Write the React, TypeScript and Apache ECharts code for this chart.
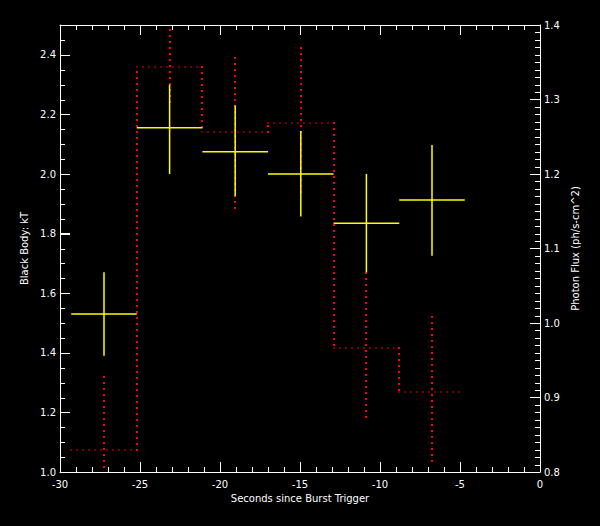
import React, { useEffect, useRef } from 'react';
import * as echarts from 'echarts';

// Time bins (seconds since burst trigger)
const binStart = [-29.3, -25.2, -21.1, -17.0, -12.9, -8.8];
const binEnd = [-25.2, -21.1, -17.0, -12.9, -8.8, -4.7];
const binCenter = [-27.25, -23.15, -19.05, -14.95, -10.85, -6.75];

// Black body kT (left axis)
const kT = [1.53, 2.155, 2.075, 2.0, 1.835, 1.913];
const kTLow = [1.39, 2.0, 1.925, 1.857, 1.67, 1.726];
const kTHigh = [1.67, 2.3, 2.23, 2.144, 2.0, 2.097];

// Photon flux (right axis)
const flux = [0.83, 1.343, 1.257, 1.269, 0.967, 0.907];
const fluxLow = [0.732, 1.293, 1.152, 1.169, 0.866, 0.807];
const fluxHigh = [0.928, 1.393, 1.356, 1.369, 1.067, 1.008];

// Tick labels
const xTickLabels = ['-30', '-25', '-20', '-15', '-10', '-5', '0'];
const kTTickLabels = ['1.0', '1.2', '1.4', '1.6', '1.8', '2.0', '2.2', '2.4'];
const fluxTickLabels = ['0.8', '0.9', '1.0', '1.1', '1.2', '1.3', '1.4'];

// Axis ranges and tick steps
const X_MIN = -30, X_MAX = 0, X_MAJOR = 5, X_MINOR = 1;
const KT_MIN = 1.0, KT_MAX = 2.5, KT_MAJOR = 0.2, KT_MINOR = 0.05;
const FL_MIN = 0.8, FL_MAX = 1.4, FL_MAJOR = 0.1, FL_MINOR = 0.01;

const FONT = 'DejaVu Sans';

function tickValues(min: number, max: number, minor: number, major: number) {
  const out: [number, number][] = [];
  const n = Math.round((max - min) / minor);
  for (let i = 0; i <= n; i++) {
    const v = +(min + i * minor).toFixed(6);
    const r = (v - min) / major;
    out.push([v, Math.abs(r - Math.round(r)) < 1e-6 ? 1 : 0]);
  }
  return out;
}

// dotted segment drawn as small squares every `step` px
function dots(p1: number[], p2: number[], size: number, color: string, step = 6) {
  const dx = p2[0] - p1[0], dy = p2[1] - p1[1];
  const L = Math.sqrt(dx * dx + dy * dy);
  const n = Math.floor(L / step);
  const out: any[] = [];
  for (let i = 0; i <= n; i++) {
    const t = L === 0 ? 0 : (i * step) / L;
    const cx = Math.round(p1[0] + dx * t);
    const cy = Math.round(p1[1] + dy * t);
    out.push({
      type: 'rect',
      shape: { x: cx - size / 2, y: cy - size / 2, width: size, height: size },
      style: { fill: color },
    });
  }
  return out;
}

export default function App() {
  const ref = useRef<HTMLDivElement>(null);

  useEffect(() => {
    if (!ref.current) return;
    document.body.style.margin = '0';
    const chart = echarts.init(ref.current, null, { renderer: 'svg' });

    const pick = (labels: string[]) => (v: number) => {
      const s = labels.find((l) => Math.abs(parseFloat(l) - v) < 1e-6);
      return s === undefined ? '' : s;
    };
    const crisp = (v: number) => Math.round(v) + 0.5;

    // tick data: [x, y, kind(0 = x tick, 1 = y tick), major]
    const leftTickData: number[][] = [];
    tickValues(X_MIN, X_MAX, X_MINOR, X_MAJOR).forEach(([v, m]) => leftTickData.push([v, KT_MIN, 0, m]));
    tickValues(KT_MIN, KT_MAX, KT_MINOR, KT_MAJOR).forEach(([v, m]) => leftTickData.push([X_MIN, v, 1, m]));
    const rightTickData: number[][] = tickValues(FL_MIN, FL_MAX, FL_MINOR, FL_MAJOR).map(([v, m]) => [X_MAX, v, 1, m]);

    // [center, value, start, end, low, high, previous]
    const kTData = kT.map((v, i) => [binCenter[i], v, binStart[i], binEnd[i], kTLow[i], kTHigh[i]]);
    const fluxData = flux.map((v, i) => [
      binCenter[i], v, binStart[i], binEnd[i], fluxLow[i], fluxHigh[i], i > 0 ? flux[i - 1] : v,
    ]);

    const nameStyle = { color: '#fff', fontSize: 10, fontFamily: FONT };
    const majorTick = { show: true, inside: true, length: 10, lineStyle: { color: '#fff', width: 1 } };

    const option: any = {
      animation: false,
      backgroundColor: '#000',
      grid: { left: 60, right: 60, top: 25, bottom: 54 },
      xAxis: [
        {
          type: 'value', min: X_MIN, max: X_MAX, interval: X_MAJOR,
          name: 'Seconds since Burst Trigger', nameLocation: 'middle', nameGap: 20, nameTextStyle: nameStyle,
          axisLine: { show: true, onZero: false, lineStyle: { color: '#fff', width: 1 } },
          axisTick: majorTick,
          axisLabel: { show: true, color: '#fff', fontSize: 10, fontFamily: FONT, margin: 7, formatter: pick(xTickLabels) },
          splitLine: { show: false },
        },
        {
          type: 'value', position: 'top', min: X_MIN, max: X_MAX, interval: X_MAJOR,
          axisLine: { show: true, onZero: false, lineStyle: { color: '#fff', width: 1 } },
          axisTick: majorTick,
          axisLabel: { show: false },
          splitLine: { show: false },
        },
      ],
      yAxis: [
        {
          type: 'value', min: KT_MIN, max: KT_MAX, interval: KT_MAJOR,
          name: 'Black Body: kT', nameLocation: 'middle', nameRotate: 90, nameGap: 18, nameTextStyle: nameStyle,
          axisLine: { show: true, onZero: false, lineStyle: { color: '#fff', width: 1 } },
          axisTick: majorTick,
          axisLabel: { show: true, color: '#fff', fontSize: 10, fontFamily: FONT, margin: 4, showMaxLabel: false, formatter: pick(kTTickLabels) },
          splitLine: { show: false },
        },
        {
          type: 'value', position: 'right', min: FL_MIN, max: FL_MAX, interval: FL_MAJOR,
          name: 'Photon Flux (ph/s-cm^2)', nameLocation: 'middle', nameRotate: 90, nameGap: 13, nameTextStyle: nameStyle,
          axisLine: { show: true, onZero: false, lineStyle: { color: '#fff', width: 1 } },
          axisTick: majorTick,
          axisLabel: { show: true, color: '#fff', fontSize: 10, fontFamily: FONT, margin: 4, formatter: pick(fluxTickLabels) },
          splitLine: { show: false },
        },
      ],
      series: [
        {
          type: 'custom',
          xAxisIndex: 0,
          yAxisIndex: 0,
          clip: false,
          z: 5,
          encode: { x: 0, y: 1 },
          data: leftTickData,
          renderItem: (params: any, api: any) => {
            const len = api.value(3) ? 10 : 5;
            if (api.value(2) === 0) {
              const b = api.coord([api.value(0), KT_MIN]);
              const t = api.coord([api.value(0), KT_MAX]);
              const x = crisp(b[0]);
              return {
                type: 'group',
                children: [
                  { type: 'line', shape: { x1: x, y1: b[1], x2: x, y2: b[1] - len }, style: { stroke: '#fff', lineWidth: 1 } },
                  { type: 'line', shape: { x1: x, y1: t[1], x2: x, y2: t[1] + len }, style: { stroke: '#fff', lineWidth: 1 } },
                ],
              };
            }
            const p = api.coord([X_MIN, api.value(1)]);
            const y = crisp(p[1]);
            return { type: 'line', shape: { x1: p[0], y1: y, x2: p[0] + len, y2: y }, style: { stroke: '#fff', lineWidth: 1 } };
          },
        },
        {
          type: 'custom',
          xAxisIndex: 0,
          yAxisIndex: 1,
          clip: false,
          z: 5,
          encode: { x: 0, y: 1 },
          data: rightTickData,
          renderItem: (params: any, api: any) => {
            const len = api.value(3) ? 10 : 5;
            const p = api.coord([X_MAX, api.value(1)]);
            const y = crisp(p[1]);
            return { type: 'line', shape: { x1: p[0], y1: y, x2: p[0] - len, y2: y }, style: { stroke: '#fff', lineWidth: 1 } };
          },
        },
        {
          type: 'custom',
          xAxisIndex: 0,
          yAxisIndex: 1,
          z: 2,
          encode: { x: 0, y: 1 },
          data: fluxData,
          renderItem: (params: any, api: any) => {
            const xc = api.value(0), y = api.value(1), x0 = api.value(2), x1 = api.value(3);
            const lo = Math.max(api.value(4), FL_MIN), hi = Math.min(api.value(5), FL_MAX), prev = api.value(6);
            const pL = api.coord([x0, y]);
            const pR = api.coord([x1, y]);
            const pPrev = api.coord([x0, prev]);
            const pT = api.coord([xc, hi]);
            const pB = api.coord([xc, lo]);
            let children: any[] = [];
            children = children.concat(dots(pL, pR, 1.5, '#d00000'));
            children = children.concat(dots(pT, pB, 2, '#ff0000'));
            if (params.dataIndex > 0) children = children.concat(dots(pPrev, pL, 2, '#ff0000'));
            return { type: 'group', children };
          },
        },
        {
          type: 'custom',
          xAxisIndex: 0,
          yAxisIndex: 0,
          z: 3,
          encode: { x: 0, y: 1 },
          data: kTData,
          renderItem: (params: any, api: any) => {
            const xc = api.value(0), y = api.value(1), x0 = api.value(2), x1 = api.value(3);
            const lo = api.value(4), hi = api.value(5);
            const pL = api.coord([x0, y]);
            const pR = api.coord([x1, y]);
            const pT = api.coord([xc, hi]);
            const pB = api.coord([xc, lo]);
            const st = { stroke: '#ffff00', lineWidth: 1.5 };
            return {
              type: 'group',
              children: [
                { type: 'line', shape: { x1: pL[0], y1: pL[1], x2: pR[0], y2: pR[1] }, style: st },
                { type: 'line', shape: { x1: pT[0], y1: pT[1], x2: pB[0], y2: pB[1] }, style: st },
              ],
            };
          },
        },
      ],
    };

    chart.setOption(option);
    return () => chart.dispose();
  }, []);

  return <div ref={ref} style={{ position: 'fixed', left: 0, top: 0, width: 600, height: 526 }} />;
}
